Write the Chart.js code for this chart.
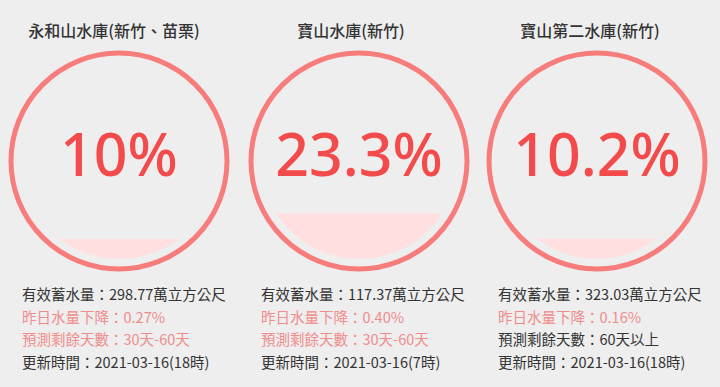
<!DOCTYPE html>
<html>
<head>
<meta charset="utf-8">
<script src="https://cdn.jsdelivr.net/npm/chart.js@4/dist/chart.umd.min.js"></script>
<style>
  body { margin: 0; background: #eeeeee; font-family: "Noto Sans CJK TC", sans-serif; width: 720px; height: 387px; overflow: hidden; position: relative; }
  .title { position: absolute; top: 18px; width: 240px; text-align: center; font-size: 16px; color: #333; font-weight: 500; white-space: nowrap; }
  canvas { position: absolute; top: 46px; }
  .info { position: absolute; top: 283px; font-size: 14.5px; line-height: 22.5px; color: #333; white-space: nowrap; }
  .warn { color: #f08c8c; }
</style>
</head>
<body>
<script>
// reservoir data
var names = ["永和山水庫(新竹、苗栗)", "寶山水庫(新竹)", "寶山第二水庫(新竹)"];
var percents = [10, 23.3, 10.2];
var volumes = ["298.77", "117.37", "323.03"];
var drops = ["0.27", "0.40", "0.16"];
var daysLeft = ["30天-60天", "30天-60天", "60天以上"];
var daysWarn = [true, true, false];
var updated = ["2021-03-16(18時)", "2021-03-16(7時)", "2021-03-16(18時)"];

var centerX = [119, 359, 597];
var titleX = [114, 351, 590];
var infoX = [22, 261, 498];

var gaugePlugin = {
  id: "gauge",
  beforeDatasetsDraw: function (chart) {
    var a = chart.chartArea, ctx = chart.ctx;
    var cx = (a.left + a.right) / 2, cy = (a.top + a.bottom) / 2, r = (a.right - a.left) / 2;
    ctx.save();
    ctx.beginPath();
    ctx.arc(cx, cy, r, 0, Math.PI * 2);
    ctx.clip();
  },
  afterDatasetsDraw: function (chart, args, opts) {
    var a = chart.chartArea, ctx = chart.ctx;
    ctx.restore();
    var cx = (a.left + a.right) / 2, cy = (a.top + a.bottom) / 2, r = (a.right - a.left) / 2;
    ctx.save();
    ctx.beginPath();
    ctx.arc(cx, cy, r + 10, 0, Math.PI * 2);
    ctx.lineWidth = 5;
    ctx.strokeStyle = "#f77d7d";
    ctx.stroke();
    ctx.font = "500 59px 'Noto Sans', 'Open Sans', sans-serif";
    ctx.fillStyle = "#f34b4b";
    ctx.textAlign = "center";
    ctx.textBaseline = "middle";
    ctx.fillText(opts.text, cx, cy - 2);
    ctx.restore();
  }
};

names.forEach(function (name, i) {
  var t = document.createElement("div");
  t.className = "title";
  t.style.left = (titleX[i] - 120) + "px";
  t.textContent = name;
  document.body.appendChild(t);

  var c = document.createElement("canvas");
  c.width = 230;
  c.height = 230;
  c.style.left = (centerX[i] - 115) + "px";
  document.body.appendChild(c);

  new Chart(c.getContext("2d"), {
    type: "bar",
    data: {
      labels: ["水位"],
      datasets: [{
        data: [percents[i]],
        backgroundColor: "#ffdfdf",
        borderWidth: 0,
        categoryPercentage: 1,
        barPercentage: 1
      }]
    },
    options: {
      responsive: false,
      animation: false,
      layout: { padding: 17 },
      scales: {
        x: { display: false },
        y: { display: false, min: 0, max: 100 }
      },
      plugins: {
        legend: { display: false },
        tooltip: { enabled: false },
        gauge: { text: percents[i] + "%" }
      }
    },
    plugins: [gaugePlugin]
  });

  var info = document.createElement("div");
  info.className = "info";
  info.style.left = infoX[i] + "px";
  info.innerHTML =
    "<div>有效蓄水量：" + volumes[i] + "萬立方公尺</div>" +
    "<div class='warn'>昨日水量下降：" + drops[i] + "%</div>" +
    "<div" + (daysWarn[i] ? " class='warn'" : "") + ">預測剩餘天數：" + daysLeft[i] + "</div>" +
    "<div>更新時間：" + updated[i] + "</div>";
  document.body.appendChild(info);
});
</script>
</body>
</html>
